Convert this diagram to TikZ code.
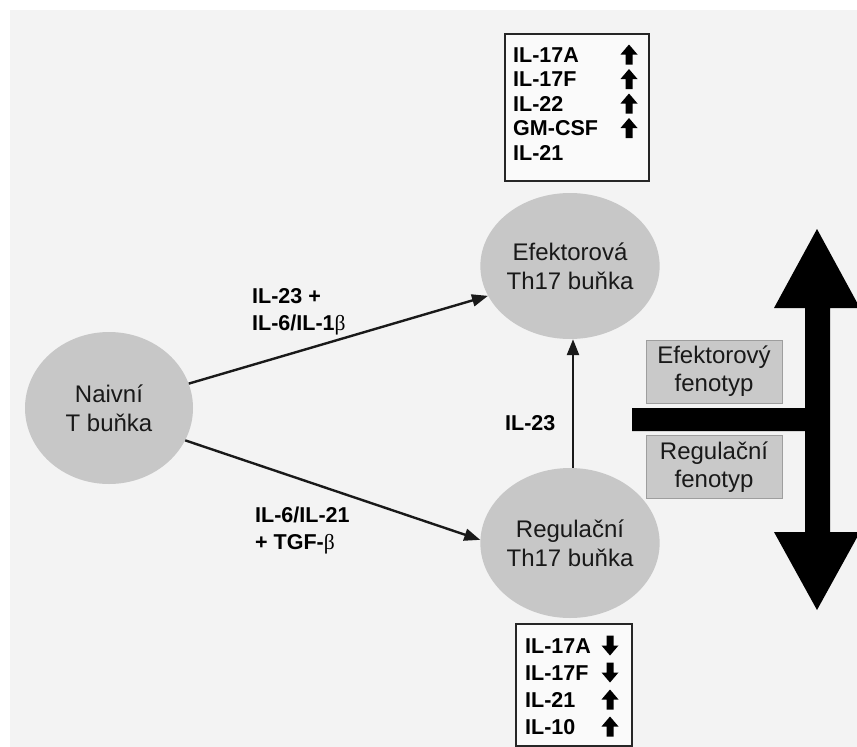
\documentclass[tikz,border=0pt]{standalone}
\usepackage{fontspec}
\setmainfont{Liberation Sans}
\newfontfamily\betafont{Liberation Serif}
\usetikzlibrary{arrows.meta,shapes.geometric}
\definecolor{bgcol}{rgb}{0.953,0.953,0.953}
\definecolor{cellcol}{rgb}{0.78,0.78,0.78}
\definecolor{phcol}{rgb}{0.79,0.79,0.79}
\definecolor{phedge}{rgb}{0.62,0.62,0.62}
\newcommand{\bet}{{\betafont\mdseries β}}
\tikzset{
  cell/.style={ellipse,fill=cellcol,inner sep=0pt,align=center,text=black!90,font=\fontsize{24}{29}\selectfont},
  lab/.style={font=\bfseries\fontsize{21.5}{26.5}\selectfont,align=left,inner sep=0pt,anchor=base west},
  cyt/.style={font=\bfseries\fontsize{21.5}{24}\selectfont,inner sep=0pt,anchor=base west},
  cytbox/.style={draw=black!85,line width=1.8pt,fill=white!60!bgcol},
  phbox/.style={rectangle,fill=phcol,draw=phedge,line width=0.8pt,minimum width=136pt,minimum height=63pt,align=center,inner sep=0pt,text=black!90,font=\fontsize{24}{28}\selectfont},
  conn/.style={->,line width=2.4pt,draw=black!90},
  uparr/.pic={\fill (0,-10) -- (8.5,0) -- (3.5,0) -- (3.5,10) -- (-3.5,10) -- (-3.5,0) -- (-8.5,0) -- cycle;},
  downarr/.pic={\fill (0,10) -- (8.5,0) -- (3.5,0) -- (3.5,-10) -- (-3.5,-10) -- (-3.5,0) -- (-8.5,0) -- cycle;}
}
\begin{document}
\begin{tikzpicture}[x=1pt,y=-1pt,line join=miter,>={Triangle[length=16pt,width=12pt]}]
	\useasboundingbox (0,0) rectangle (857,747);
	\fill[white] (0,0) rectangle (857,747);
	\fill[bgcol] (10,10) rectangle (857,747);

	\node[cell,minimum width=168pt,minimum height=152pt] (naive) at (109,408) {Naivní\\T buňka};
	\node[cell,minimum width=166pt,minimum height=146pt] (efekt) at (570,266) {Efektorová\\Th17 buňka};
	\node[cell,minimum width=166pt,minimum height=150pt] (regul) at (570,543) {Regulační\\Th17 buňka};

	\draw[conn] (naive.17) -- (efekt.200);
	\draw[conn] (naive.-23) -- (regul.178);
	\draw[conn] ([xshift=3pt]regul.north) -- ([xshift=3pt]efekt.south);

	\node[lab] (upper) at (252,330) {IL-23 +\\IL-6/IL-1\bet};
	\node[lab] (lower) at (255,549) {IL-6/IL-21\\+ TGF-\bet};
	\node[lab] (vert) at (505,430) {IL-23};

	\draw[cytbox] (505,34) rectangle (649,181);
	\foreach \t [count=\i] in {IL-17A,IL-17F,IL-22,GM-CSF,IL-21}
		\node[cyt] (top\i) at (513,{37.5+24.5*\i}) {\t};
	\foreach \i in {1,...,4}
		\pic at (629,{30+24.5*\i}) {uparr};

	\draw[cytbox] (516,624) rectangle (632,746);
	\foreach \t [count=\i] in {IL-17A,IL-17F,IL-21,IL-10}
		\node[cyt] (bot\i) at (525,{626+27*\i}) {\t};
	\foreach \i in {1,2}
		\pic at (610,{618.5+27*\i}) {downarr};
	\foreach \i in {3,4}
		\pic at (610,{618.5+27*\i}) {uparr};

	\node[phbox] (efph) at (714,371.5) {Efektorový\\fenotyp};
	\node[phbox] (regph) at (714,467) {Regulační\\fenotyp};

	\fill[black] (817,229) -- (860,308) -- (830,308) -- (830,532) -- (860,532) -- (817,610) -- (774,532) -- (805,532)
		-- (805,431) -- (632,431) -- (632,408) -- (805,408) -- (805,308) -- (774,308) -- cycle;
\end{tikzpicture}
\end{document}
